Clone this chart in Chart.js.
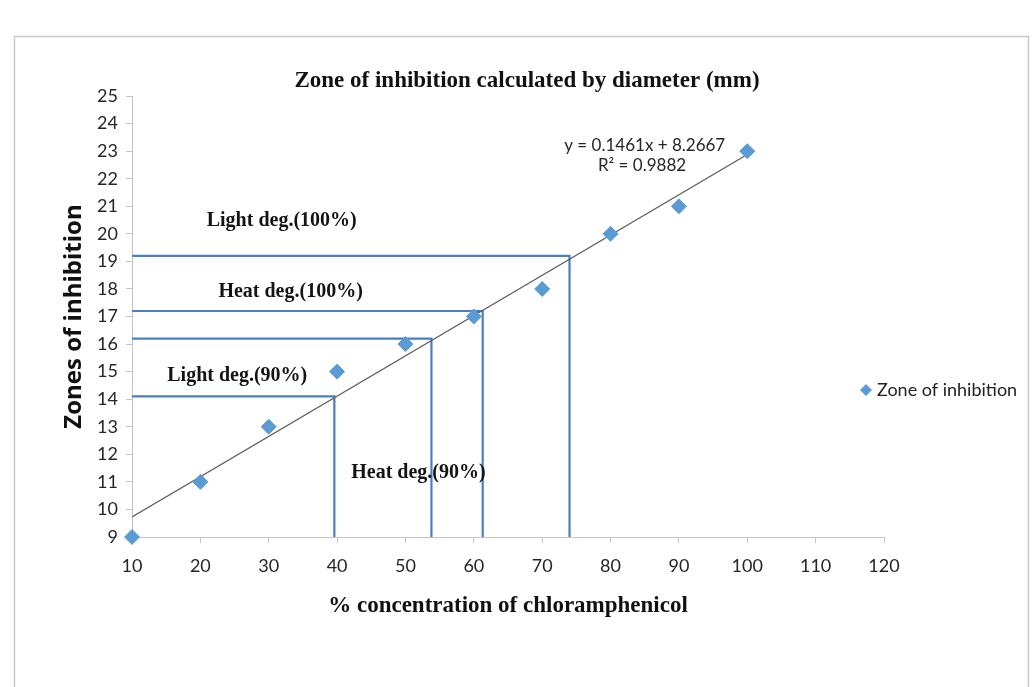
<!DOCTYPE html>
<html><head><meta charset="utf-8">
<script src="https://cdn.jsdelivr.net/npm/chart.js@4/dist/chart.umd.min.js"></script>
<style>html,body{margin:0;padding:0;background:#fff}canvas{display:block}</style>
</head><body>
<canvas id="c" width="1036" height="687"></canvas>
<script>
// ---- data ----
const concentration = [10, 20, 30, 40, 50, 60, 70, 80, 90, 100];
const zoneValues = [9, 11, 13, 15, 16, 17, 18, 20, 21, 23];
const trendSlope = 0.1461;
const trendIntercept = 8.2667;
const trendRange = [10, 100];
const xTicks = [10, 20, 30, 40, 50, 60, 70, 80, 90, 100, 110, 120];
const yTicks = [9, 10, 11, 12, 13, 14, 15, 16, 17, 18, 19, 20, 21, 22, 23, 24, 25];
// reading lines (zone value -> concentration on trend line)
const refY = [19.2, 17.2, 16.2, 14.1];
const refX = [74.0, 61.3, 53.8, 39.6];
// annotation labels (data coordinates)
const labelText = ['Light deg.(100%)', 'Heat deg.(100%)', 'Light deg.(90%)', 'Heat deg.(90%)'];
const labelX = [31.9, 33.2, 25.4, 51.9];
const labelY = [20.47, 17.89, 14.85, 11.33];
const eqText = ['y = 0.1461x + 8.2667', 'R\u00B2 = 0.9882'];
const eqX = [85.0, 84.6];
const eqY = [23.2, 22.46];
const chartTitle = 'Zone of inhibition calculated by diameter (mm)';
const xTitle = '% concentration of chloramphenicol';
const yTitle = 'Zones of inhibition';
const seriesName = 'Zone of inhibition';

// ---- datasets ----
const datasets = [];
datasets.push({
  label: seriesName,
  data: concentration.map((x, i) => ({x, y: zoneValues[i]})),
  pointStyle: 'rectRot', pointRadius: 7.5, pointHoverRadius: 7.5,
  backgroundColor: '#5B9BD5', borderColor: '#5B9BD5', borderWidth: 1,
  showLine: false, clip: false, order: 0
});
datasets.push({
  label: 'Linear (Zone of inhibition)',
  data: trendRange.map(x => ({x, y: trendSlope * x + trendIntercept})),
  showLine: true, borderColor: '#5a5a5a', borderWidth: 1.2, pointRadius: 0, order: 1
});
refY.forEach((yv, i) => {
  datasets.push({
    label: 'ref' + i,
    data: [{x: xTicks[0], y: yv}, {x: refX[i], y: yv}, {x: refX[i], y: yTicks[0]}],
    showLine: true, borderColor: '#4A7FC4', borderWidth: 2.2, pointRadius: 0, order: 2
  });
});

const decor = {
  id: 'decor',
  beforeDraw(chart) {
    const ctx = chart.ctx;
    ctx.save();
    ctx.fillStyle = '#ffffff';
    ctx.fillRect(0, 0, chart.width, chart.height);
    ctx.strokeStyle = '#c9c9c9';
    ctx.lineWidth = 1.5;
    ctx.strokeRect(14.5, 36.5, 1014, 680);
    ctx.restore();
  },
  afterDatasetsDraw(chart) {
    const ctx = chart.ctx, xs = chart.scales.x, ys = chart.scales.y;
    ctx.save();
    ctx.textAlign = 'center';
    ctx.textBaseline = 'middle';
    ctx.fillStyle = '#141414';
    ctx.font = 'bold 20px "Liberation Serif"';
    labelText.forEach((t, i) => ctx.fillText(t, xs.getPixelForValue(labelX[i]), ys.getPixelForValue(labelY[i])));
    ctx.fillStyle = '#262626';
    ctx.font = '17px Lato';
    eqText.forEach((t, i) => ctx.fillText(t, xs.getPixelForValue(eqX[i]), ys.getPixelForValue(eqY[i])));
    // chart title
    ctx.fillStyle = '#111';
    ctx.font = 'bold 23px "Liberation Serif"';
    ctx.fillText(chartTitle, 527, 81);
    ctx.restore();
  },
  afterDraw(chart) {
    const ctx = chart.ctx;
    const ds = chart.data.datasets[0];
    ctx.save();
    ctx.fillStyle = ds.backgroundColor;
    ctx.strokeStyle = ds.borderColor;
    Chart.helpers.drawPoint(ctx, {pointStyle: 'rectRot', radius: 5.5, borderWidth: 1}, 866, 390);
    ctx.fillStyle = '#222';
    ctx.font = '18px Lato';
    ctx.textAlign = 'left';
    ctx.textBaseline = 'middle';
    ctx.fillText(ds.label, 877, 390);
    ctx.restore();
  }
};

new Chart(document.getElementById('c'), {
  type: 'scatter',
  data: {datasets},
  options: {
    responsive: false, animation: false, devicePixelRatio: 1,
    layout: {padding: {top: 96, left: 40, right: 152, bottom: 66.8}},
    plugins: {legend: {display: false}, tooltip: {enabled: false}, title: {display: false}},
    scales: {
      x: {
        type: 'linear', min: xTicks[0], max: xTicks[xTicks.length - 1],
        afterBuildTicks: s => { s.ticks = xTicks.map(v => ({value: v})); },
        afterFit: s => { s.height = 83.2; },
        grid: {display: true, drawOnChartArea: false, drawTicks: true, tickLength: 6, color: '#c4c4c4'},
        border: {display: true, color: '#c4c4c4', width: 1},
        ticks: {font: {family: 'Lato', size: 18}, color: '#262626', padding: 12, maxRotation: 0, autoSkip: false},
        title: {display: true, text: xTitle, color: '#111', font: {family: 'Liberation Serif', size: 23, weight: 'bold'}, padding: {top: 0, bottom: 0}}
      },
      y: {
        type: 'linear', min: yTicks[0], max: yTicks[yTicks.length - 1],
        afterBuildTicks: s => { s.ticks = yTicks.map(v => ({value: v})); },
        afterFit: s => { s.width = 92; },
        grid: {display: true, drawOnChartArea: false, drawTicks: true, tickLength: 6, color: '#c4c4c4'},
        border: {display: true, color: '#c4c4c4', width: 1},
        ticks: {font: {family: 'Lato', size: 18}, color: '#262626', padding: 8, autoSkip: false},
        title: {display: true, text: yTitle, color: '#111', font: {family: 'Open Sans', size: 24, weight: 'bold'}, padding: {top: 20, bottom: 0}}
      }
    }
  },
  plugins: [decor]
});
</script>
</body></html>
